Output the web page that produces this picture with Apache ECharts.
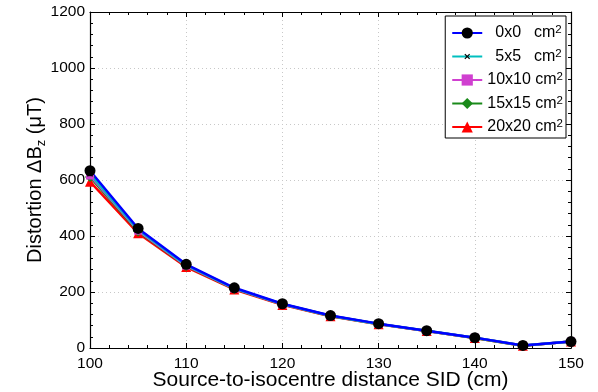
<!DOCTYPE html>
<html><head><meta charset="utf-8">
<script src="https://cdn.jsdelivr.net/npm/echarts@6/dist/echarts.min.js"></script>
<style>html,body{margin:0;padding:0;background:#fff}#c{width:598px;height:392px}</style>
</head><body><div id="c"></div>
<script>
const sid = [100,105,110,115,120,125,130,135,140,145,150];
const s0x0   = [633,427,299,215,158,116,87,62,37,9,23];
const s5x5   = [622,422,296,213,157,115,86,62,37,9,23];
const s10x10 = [616,419,294,212,156,115,86,61,37,9,23];
const s15x15 = [611,416,293,211,156,114,86,61,36,8,23];
const s20x20 = [594,410,289,209,154,113,85,61,36,8,23];
const names = ['0x0','5x5','10x10','15x15','20x20'];
const xTicks = [100,110,120,130,140,150];
const yTicks = [0,200,400,600,800,1000,1200];

const font = 'Liberation Sans, Arial, Helvetica, sans-serif';
const crossPath = 'path://M-5,-5 M15,15 M0,1.5 L1.5,0 L5,3.5 L8.5,0 L10,1.5 L6.5,5 L10,8.5 L8.5,10 L5,6.5 L1.5,10 L0,8.5 L3.5,5 Z';
const defs = [
  {name:names[0], data:s0x0, line:'#0000ff', mark:'#000000', symbol:'circle', size:11},
  {name:names[1], data:s5x5, line:'#00bfbf', mark:'#000000', symbol:crossPath, size:12},
  {name:names[2], data:s10x10, line:'#d040d0', mark:'#d040d0', symbol:'rect', size:8},
  {name:names[3], data:s15x15, line:'#1a8a1a', mark:'#1a8a1a', symbol:'diamond', size:10},
  {name:names[4], data:s20x20, line:'#ff0000', mark:'#ff0000', symbol:'triangle', size:10}
];
const series = defs.slice().reverse().map(d => ({
  name:d.name, type:'line', data:sid.map((x,i)=>[x,d.data[i]]),
  symbol:d.symbol, symbolSize:d.size, showAllSymbol:true,
  lineStyle:{color:d.line,width:2.5}, itemStyle:{color:d.mark, borderWidth:0},
  emphasis:{disabled:true}, animation:false, z:2
}));

const axisCommon = {
  axisLine:{show:true,onZero:false,lineStyle:{color:'#000',width:1.2}},
  axisTick:{show:true,inside:true,length:5,lineStyle:{color:'#000'}},
  minorTick:{show:true,splitNumber:5,length:3,lineStyle:{color:'#000'}},
};
const chart = echarts.init(document.getElementById('c'), null, {renderer:'canvas'});
chart.setOption({
  animation:false,
  grid:{left:90,right:27,top:12,bottom:44,containLabel:false,outerBoundsMode:'none'},
  legend:{
    data:names, orient:'vertical', right:32, top:16, itemWidth:30, itemHeight:14, itemGap:6.5,
    backgroundColor:'#fff', borderColor:'#000', borderWidth:1, borderRadius:0, padding:[8,3,3,6],
    formatter: n => n.length<5 ? '{p|}{a|'+n+'}{g|}{a|cm}{s|2}' : '{a|'+n+' cm}{s|2}',
    textStyle:{rich:{
      a:{fontFamily:font,fontSize:16,color:'#000',lineHeight:18},
      p:{width:8,lineHeight:18},
      g:{width:13,lineHeight:18},
      s:{fontFamily:font,fontSize:11.5,color:'#000',verticalAlign:'top',lineHeight:10}
    }}
  },
  xAxis:[{
    type:'value', min:100, max:150, interval:10, position:'bottom',
    ...axisCommon,
    axisLabel:{color:'#000',fontFamily:font,fontSize:15.5,margin:8},
    splitLine:{show:true,lineStyle:{color:'#c8c8c8',type:[1,3],width:1}},
    name:'Source-to-isocentre distance SID (cm)', nameLocation:'middle', nameGap:22, nameMoveOverlap:false,
    nameTextStyle:{color:'#000',fontFamily:font,fontSize:21,verticalAlign:'top'}
  },{
    type:'value', min:100, max:150, interval:10, position:'top',
    ...axisCommon, axisLabel:{show:false}, splitLine:{show:false}
  }],
  yAxis:[{
    type:'value', min:0, max:1200, interval:200, position:'left',
    ...axisCommon,
    axisLabel:{color:'#000',fontFamily:font,fontSize:15.5,margin:5,formatter:v=>String(v)},
    splitLine:{show:true,lineStyle:{color:'#c8c8c8',type:[1,3],width:1}},
    name:'{a|Distortion ΔB}{b|z}{a| (μT)}', nameLocation:'middle', nameGap:42, nameRotate:90, nameMoveOverlap:false,
    nameTextStyle:{rich:{
      a:{color:'#000',fontFamily:font,fontSize:20,lineHeight:26},
      b:{color:'#000',fontFamily:font,fontSize:13,lineHeight:14,verticalAlign:'bottom'}
    }}
  },{
    type:'value', min:0, max:1200, interval:200, position:'right',
    ...axisCommon, axisLabel:{show:false}, splitLine:{show:false}
  }],
  series: series
});
</script></body></html>
